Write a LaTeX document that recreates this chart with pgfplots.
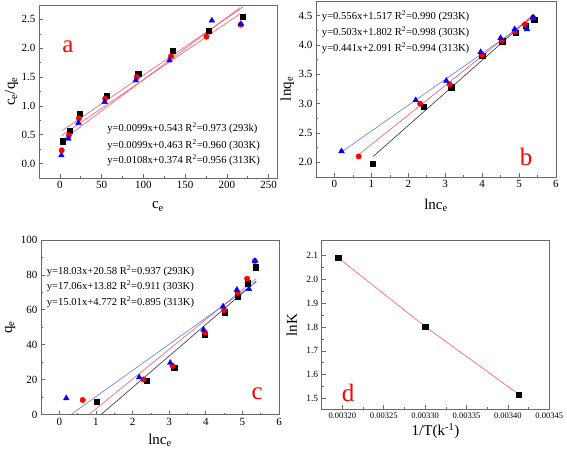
\documentclass[border=0pt]{standalone}
\usepackage{fontspec}
\setmainfont{Liberation Serif}
\usepackage{pgfplots}
\pgfplotsset{compat=1.18}

\definecolor{fitred}{RGB}{255,85,110}
\definecolor{fitblue}{RGB}{90,120,255}
\definecolor{fitblack}{RGB}{50,50,50}
\definecolor{axgray}{RGB}{105,105,105}

\tikzset{
 eq/.style={anchor=west, font=\fontsize{10.6}{12}\selectfont, inner sep=0pt},
 lett/.style={font=\fontsize{25}{27}\selectfont, text=red, inner sep=0pt},
}
\pgfplotsset{
 panel/.style={
  scale only axis,
  axis line style={draw=axgray, line width=0.9pt},
  tick style={draw=axgray, line width=0.6pt},
  tick align=inside,
  tick pos=left,
  minor tick num=1,
  major tick length=4pt, minor tick length=2pt,
  ticklabel style={font=\fontsize{11}{13}\selectfont},
  label style={font=\fontsize{15}{17}\selectfont},
  /pgf/number format/assume math mode=true,
  clip=true,
 },
 ylab/.style={ylabel style={at={(axis description cs:#1,0.5)}, anchor=center}},
 xlab/.style={xlabel style={at={(axis description cs:0.5,#1)}, anchor=center}},
 sq/.style={only marks, mark=square*, mark size=2.6pt, color=black},
 ci/.style={only marks, mark=*, mark size=2.7pt, color=red},
 tr/.style={only marks, mark=triangle*, mark size=3.3pt, color=blue},
}

\begin{document}
\begin{tikzpicture}
\useasboundingbox (0pt,0pt) rectangle (567pt,455pt);

% ---------------- panel a ----------------
\begin{axis}[panel, at={(39pt,277pt)}, anchor=south west,
  width=238pt, height=173pt,
  xmin=-25, xmax=260, ymin=-0.25, ymax=2.75,
  xtick={0,50,100,150,200,250},
  ytick={0,0.5,1,1.5,2,2.5},
  yticklabel style={/pgf/number format/.cd, fixed, fixed zerofill, precision=1},
  xlabel={c\textsubscript{e}}, ylabel={c\textsubscript{e}/q\textsubscript{e}},
  ylab=-0.115, xlab=-0.165,
  ]
\addplot[fitred, line width=0.6pt] coordinates {(3,0.573) (219,2.711)};
\addplot[fitred, line width=0.6pt] coordinates {(2,0.483) (216,2.601)};
\addplot[fitred, line width=0.6pt] coordinates {(1.5,0.390) (216,2.707)};
\addplot[sq] coordinates {(3.2,0.387) (11.5,0.572) (24.2,0.866) (56,1.18) (93.7,1.56) (135,1.96) (178,2.31) (219.4,2.55)};
\addplot[ci] coordinates {(2.2,0.23) (10.8,0.49) (22.8,0.785) (54.2,1.126) (92,1.50) (133,1.86) (175.5,2.20) (216.5,2.41)};
\addplot[tr] coordinates {(1.8,0.144) (10.2,0.433) (22.2,0.704) (53.6,1.068) (90.9,1.443) (131.3,1.79) (182,2.48) (216.7,2.42)};
\node[eq] at (rel axis cs:0.286,0.289) {y=0.0099x+0.543 R\textsuperscript{2}=0.973 (293k)};
\node[eq] at (rel axis cs:0.286,0.191) {y=0.0099x+0.463 R\textsuperscript{2}=0.960 (303K)};
\node[eq] at (rel axis cs:0.286,0.104) {y=0.0108x+0.374 R\textsuperscript{2}=0.956 (313K)};
\node[lett] at (rel axis cs:0.122,0.757) {a};
\end{axis}

% ---------------- panel b ----------------
\begin{axis}[panel, at={(316pt,278pt)}, anchor=south west,
  width=240pt, height=176pt,
  xmin=-0.5, xmax=6, ymin=1.75, ymax=4.75,
  xtick={0,1,2,3,4,5,6},
  ytick={2,2.5,3,3.5,4,4.5},
  yticklabel style={/pgf/number format/.cd, fixed, fixed zerofill, precision=1},
  xlabel={lnc\textsubscript{e}}, ylabel={lnq\textsubscript{e}},
  ylab=-0.12, xlab=-0.16,
  ]
\addplot[fitblack, line width=0.6pt] coordinates {(1.05,2.101) (5.4,4.519)};
\addplot[fitred, line width=0.6pt] coordinates {(0.65,2.129) (5.38,4.508)};
\addplot[fitblue, line width=0.6pt] coordinates {(0.19,2.175) (5.38,4.464)};
\addplot[sq] coordinates {(1.045,1.98) (2.41,2.95) (3.16,3.28) (4.0,3.82) (4.545,4.065) (4.9,4.21) (5.19,4.325) (5.41,4.43)};
\addplot[ci] coordinates {(0.655,2.10) (2.32,3.0) (3.12,3.33) (4.0,3.83) (4.53,4.08) (4.89,4.23) (5.16,4.35) (5.38,4.47)};
\addplot[tr] coordinates {(0.19,2.19) (2.2,3.06) (3.03,3.39) (3.96,3.88) (4.5,4.12) (4.88,4.27) (5.21,4.27) (5.38,4.47)};
\node[eq] at (rel axis cs:0.024,0.915) {y=0.556x+1.517 R\textsuperscript{2}=0.990 (293K)};
\node[eq] at (rel axis cs:0.024,0.823) {y=0.503x+1.802 R\textsuperscript{2}=0.998 (303K)};
\node[eq] at (rel axis cs:0.024,0.732) {y=0.441x+2.091 R\textsuperscript{2}=0.994 (313K)};
\node[lett] at (rel axis cs:0.876,0.114) {b};
\end{axis}

% ---------------- panel c ----------------
\begin{axis}[panel, at={(41pt,40.5pt)}, anchor=south west,
  width=238pt, height=174.5pt,
  xmin=-0.5, xmax=6, ymin=0, ymax=100,
  xtick={0,1,2,3,4,5,6},
  ytick={0,20,40,60,80,100},
  xlabel={lnc\textsubscript{e}}, ylabel={q\textsubscript{e}},
  ylab=-0.13, xlab=-0.15,
  ]
\addplot[fitblack, line width=0.6pt] coordinates {(1.141,0) (5.38,76.42)};
\addplot[fitred, line width=0.6pt] coordinates {(0.81,0) (5.38,77.96)};
\addplot[fitblue, line width=0.6pt] coordinates {(0.318,0) (5.38,75.98)};
\addplot[sq] coordinates {(1.02,7.4) (2.38,19.4) (3.14,26.9) (3.98,45.9) (4.51,58.6) (4.88,67.7) (5.14,75.3) (5.36,84.4)};
\addplot[ci] coordinates {(0.64,8.3) (2.30,20.1) (3.09,27.9) (3.98,46.9) (4.50,59.8) (4.87,69.6) (5.13,77.8) (5.34,88)};
\addplot[tr] coordinates {(0.19,9.3) (2.18,21.3) (3.03,29.6) (3.94,48.6) (4.47,61.9) (4.85,71.5) (5.18,71.9) (5.34,88)};
\node[eq] at (rel axis cs:0.024,0.824) {y=18.03x+20.58 R\textsuperscript{2}=0.937 (293K)};
\node[eq] at (rel axis cs:0.024,0.735) {y=17.06x+13.82 R\textsuperscript{2}=0.911 (303K)};
\node[eq] at (rel axis cs:0.024,0.644) {y=15.01x+4.772 R\textsuperscript{2}=0.895 (313K)};
\node[lett] at (rel axis cs:0.908,0.118) {c};
\end{axis}

% ---------------- panel d ----------------
\begin{axis}[panel, at={(321.7pt,45.7pt)}, anchor=south west,
  width=227.6pt, height=168.6pt,
  xmin=0.003175, xmax=0.00345, ymin=1.454, ymax=2.163,
  xtick={0.0032,0.00325,0.0033,0.00335,0.0034,0.00345},
  xticklabels={0.00320,0.00325,0.00330,0.00335,0.00340,0.00345},
  scaled x ticks=false,
  xticklabel style={font=\fontsize{8.5}{10}\selectfont},
  yticklabel style={font=\fontsize{9.5}{11}\selectfont},
  ytick={1.5,1.6,1.7,1.8,1.9,2.0,2.1},
  yticklabel style={/pgf/number format/.cd, fixed, fixed zerofill, precision=1},
  xlabel={1/T(k\textsuperscript{-1})}, ylabel={lnK},
  ylab=-0.132, xlab=-0.13,
  ]
\addplot[fitred, line width=0.6pt] coordinates {(0.003195,2.091) (0.0033,1.802) (0.003413,1.517)};
\addplot[sq] coordinates {(0.003195,2.091) (0.0033,1.802) (0.003413,1.517)};
\node[lett] at (rel axis cs:0.116,0.097) {d};
\end{axis}
\end{tikzpicture}
\end{document}
